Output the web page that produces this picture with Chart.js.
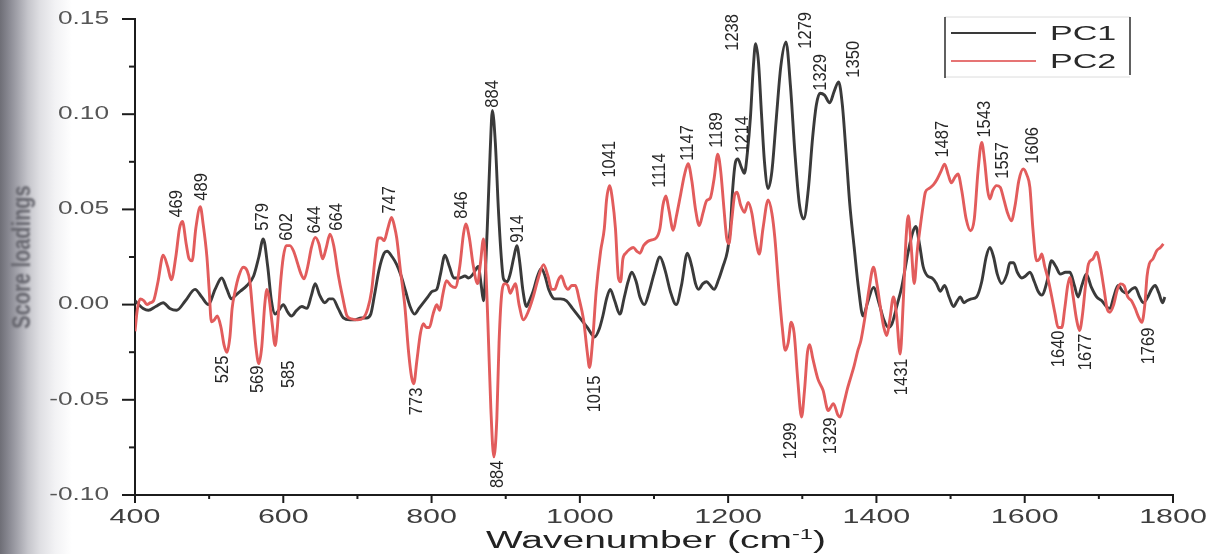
<!DOCTYPE html>
<html>
<head>
<meta charset="utf-8">
<script src="https://cdn.jsdelivr.net/npm/chart.js@4.4.0/dist/chart.umd.min.js"></script>
<style>
html,body{margin:0;padding:0;}
body{width:1223px;height:554px;overflow:hidden;background:linear-gradient(to right,#6e6e76 0px,#86868f 8px,#a5a5ad 18px,#c5c5cb 28px,#dfdfe3 40px,#f2f2f4 55px,#ffffff 72px);}
canvas{display:block;}
</style>
</head>
<body>
<canvas id="c" width="1223" height="554"></canvas>
<script>
// ---------- data ----------
const seriesNames = ['PC1', 'PC2'];
const xTickValues = [400, 600, 800, 1000, 1200, 1400, 1600, 1800];
const xTickLabels = ['400', '600', '800', '1000', '1200', '1400', '1600', '1800'];
const yTickValues = [-0.10, -0.05, 0.00, 0.05, 0.10, 0.15];
const yTickLabels = ['-0.10', '-0.05', '0.00', '0.05', '0.10', '0.15'];
const xAxisTitle = 'Wavenumber (cm';
const xAxisTitleSup = '-1';
const xAxisTitleEnd = ')';
const yAxisTitle = 'Score loadings';

// [wavenumber, loading]
const pc1Spectrum = [[400,0.002],[405,0.000],[411,-0.002],[418,-0.003],[428,-0.001],[438,0.001],[447,-0.002],[456,-0.003],[468,0.002],[481,0.008],[490,0.004],[499,0.000],[508,0.008],[517,0.014],[524,0.008],[530,0.003],[536,0.005],[542,0.007],[551,0.010],[560,0.015],[567,0.025],[573,0.0345],[579,0.020],[584,0.002],[589,-0.005],[594,-0.003],[600,0.000],[606,-0.004],[611,-0.006],[618,-0.003],[625,-0.001],[632,-0.002],[638,0.005],[643,0.011],[649,0.005],[656,0.001],[662,0.003],[667,0.003],[674,-0.002],[681,-0.007],[690,-0.008],[697,-0.008],[705,-0.007],[712,-0.007],[718,-0.005],[723,0.005],[729,0.018],[736,0.027],[740,0.028],[747,0.025],[753,0.021],[759,0.015],[765,0.007],[771,-0.001],[777,-0.005],[783,-0.002],[789,0.001],[795,0.004],[801,0.007],[807,0.008],[812,0.016],[818,0.026],[824,0.020],[830,0.014],[838,0.014],[845,0.015],[850,0.014],[856,0.016],[863,0.020],[867,0.010],[870,0.002],[875,0.039],[879,0.080],[882,0.102],[886,0.085],[890,0.051],[894,0.025],[897,0.0135],[902,0.012],[906,0.016],[911,0.025],[915,0.031],[919,0.022],[923,0.008],[928,-0.001],[932,0.002],[937,0.007],[943,0.015],[948,0.019],[953,0.015],[958,0.008],[966,0.003],[974,0.003],[982,0.002],[990,-0.002],[1000,-0.007],[1010,-0.012],[1020,-0.017],[1026,-0.013],[1031,-0.006],[1036,0.003],[1041,0.008],[1047,0.002],[1054,-0.005],[1060,0.004],[1065,0.012],[1070,0.017],[1076,0.012],[1081,0.004],[1087,0.000],[1093,0.006],[1100,0.016],[1108,0.025],[1115,0.018],[1122,0.007],[1130,0.000],[1137,0.010],[1145,0.027],[1151,0.020],[1156,0.011],[1160,0.008],[1166,0.011],[1171,0.012],[1176,0.010],[1181,0.008],[1187,0.013],[1193,0.020],[1199,0.028],[1203,0.040],[1206,0.060],[1210,0.075],[1213,0.0765],[1218,0.072],[1222,0.069],[1226,0.080],[1230,0.098],[1234,0.125],[1237,0.137],[1241,0.127],[1245,0.100],[1249,0.075],[1254,0.061],[1259,0.070],[1265,0.098],[1271,0.125],[1278,0.138],[1284,0.115],[1290,0.080],[1296,0.053],[1302,0.045],[1308,0.060],[1314,0.088],[1319,0.105],[1324,0.111],[1330,0.110],[1337,0.106],[1343,0.112],[1349,0.117],[1354,0.105],[1359,0.080],[1364,0.053],[1370,0.030],[1376,0.008],[1382,-0.006],[1388,0.001],[1396,0.009],[1404,0.000],[1410,-0.008],[1416,-0.012],[1421,-0.010],[1428,0.000],[1434,0.009],[1443,0.028],[1449,0.038],[1453,0.041],[1458,0.032],[1463,0.020],[1469,0.015],[1475,0.014],[1481,0.011],[1486,0.007],[1492,0.010],[1498,0.004],[1504,-0.001],[1509,0.002],[1513,0.004],[1518,0.001],[1522,0.002],[1528,0.003],[1535,0.004],[1542,0.012],[1548,0.025],[1553,0.030],[1558,0.025],[1563,0.016],[1569,0.011],[1576,0.016],[1580,0.022],[1585,0.022],[1590,0.017],[1596,0.014],[1601,0.015],[1607,0.017],[1613,0.012],[1618,0.007],[1623,0.005],[1630,0.012],[1636,0.023],[1642,0.020],[1648,0.016],[1655,0.017],[1661,0.017],[1667,0.010],[1672,0.004],[1677,0.010],[1683,0.016],[1690,0.009],[1697,0.004],[1704,0.002],[1710,-0.001],[1715,-0.002],[1720,0.004],[1726,0.010],[1732,0.007],[1738,0.006],[1744,0.008],[1749,0.009],[1755,0.004],[1760,0.001],[1766,0.004],[1771,0.008],[1776,0.010],[1781,0.006],[1786,0.001],[1789,0.004]];

const pc2Spectrum = [[400,-0.014],[403,-0.003],[407,0.003],[412,0.002],[416,0.000],[421,0.001],[425,0.002],[431,0.012],[438,0.026],[444,0.020],[449,0.013],[455,0.025],[460,0.040],[464,0.0437],[469,0.032],[473,0.024],[477,0.023],[482,0.040],[488,0.0514],[492,0.042],[497,0.025],[500,0.008],[503,-0.009],[507,-0.008],[511,-0.006],[516,-0.012],[520,-0.021],[524,-0.025],[528,-0.017],[531,-0.002],[535,0.007],[540,0.015],[546,0.0196],[551,0.018],[555,0.012],[559,-0.005],[563,-0.022],[567,-0.031],[571,-0.022],[575,0.000],[578,0.008],[581,0.003],[585,-0.010],[589,-0.0215],[592,-0.012],[596,0.010],[600,0.025],[604,0.031],[609,0.031],[614,0.028],[619,0.022],[624,0.016],[628,0.0135],[633,0.020],[638,0.030],[643,0.0353],[648,0.032],[653,0.024],[658,0.030],[663,0.037],[668,0.031],[674,0.016],[680,0.004],[686,-0.006],[692,-0.0075],[700,-0.008],[708,-0.007],[714,-0.002],[719,0.007],[724,0.025],[728,0.035],[732,0.035],[736,0.0336],[741,0.040],[746,0.0458],[750,0.041],[753,0.035],[758,0.018],[764,-0.001],[769,-0.025],[773,-0.038],[776,-0.0416],[780,-0.030],[785,-0.015],[789,-0.010],[793,-0.012],[797,-0.012],[802,-0.005],[807,0.000],[811,-0.003],[815,0.005],[820,0.0126],[826,0.010],[832,0.009],[838,0.020],[843,0.037],[846,0.0424],[851,0.035],[856,0.021],[862,0.011],[866,0.022],[870,0.0345],[873,0.020],[876,-0.010],[880,-0.055],[884,-0.080],[888,-0.060],[891,-0.020],[895,0.007],[899,0.011],[903,0.010],[906,0.006],[910,0.009],[913,0.011],[918,0.000],[924,-0.008],[930,-0.004],[937,0.004],[944,0.014],[951,0.021],[957,0.015],[962,0.008],[966,0.008],[971,0.013],[975,0.015],[980,0.010],[984,0.008],[989,0.010],[994,0.010],[999,0.003],[1005,-0.008],[1010,-0.025],[1013,-0.033],[1017,-0.020],[1022,0.007],[1028,0.028],[1033,0.040],[1036,0.055],[1040,0.0625],[1044,0.055],[1048,0.040],[1052,0.014],[1055,0.012],[1058,0.024],[1062,0.027],[1067,0.029],[1072,0.030],[1077,0.028],[1081,0.027],[1086,0.031],[1091,0.033],[1097,0.034],[1103,0.035],[1108,0.040],[1112,0.052],[1116,0.057],[1120,0.050],[1126,0.039],[1130,0.046],[1136,0.058],[1141,0.068],[1146,0.074],[1151,0.065],[1156,0.050],[1161,0.0415],[1166,0.048],[1171,0.0546],[1176,0.056],[1181,0.066],[1186,0.079],[1190,0.070],[1194,0.052],[1198,0.035],[1201,0.032],[1205,0.045],[1209,0.058],[1212,0.059],[1217,0.052],[1222,0.0485],[1227,0.0537],[1232,0.048],[1237,0.035],[1242,0.0266],[1247,0.040],[1254,0.055],[1259,0.048],[1263,0.035],[1268,0.010],[1273,-0.012],[1277,-0.024],[1281,-0.020],[1285,-0.0093],[1289,-0.015],[1294,-0.040],[1299,-0.059],[1303,-0.045],[1307,-0.025],[1310,-0.021],[1314,-0.028],[1321,-0.039],[1328,-0.045],[1335,-0.0556],[1342,-0.052],[1348,-0.058],[1351,-0.059],[1356,-0.052],[1361,-0.044],[1364,-0.040],[1370,-0.032],[1375,-0.024],[1379,-0.019],[1384,-0.008],[1390,0.008],[1396,0.0196],[1401,0.010],[1406,-0.003],[1410,-0.012],[1414,-0.0163],[1418,-0.008],[1423,0.004],[1427,-0.005],[1432,-0.026],[1436,0.000],[1440,0.035],[1443,0.0467],[1447,0.030],[1451,0.011],[1455,0.028],[1459,0.0406],[1463,0.052],[1466,0.059],[1471,0.061],[1477,0.063],[1482,0.066],[1487,0.070],[1492,0.0738],[1497,0.068],[1501,0.064],[1506,0.067],[1510,0.0686],[1515,0.060],[1521,0.045],[1527,0.0388],[1532,0.045],[1537,0.070],[1542,0.0852],[1546,0.075],[1550,0.060],[1553,0.0555],[1557,0.060],[1562,0.0625],[1567,0.0616],[1572,0.055],[1577,0.048],[1582,0.044],[1587,0.052],[1592,0.065],[1598,0.0712],[1603,0.068],[1607,0.0616],[1611,0.040],[1616,0.023],[1620,0.024],[1623,0.0266],[1627,0.020],[1632,0.0126],[1636,0.005],[1641,-0.005],[1645,-0.012],[1650,-0.012],[1654,-0.002],[1658,0.010],[1661,0.0143],[1665,0.005],[1670,-0.008],[1674,-0.0136],[1678,-0.005],[1682,0.010],[1686,0.0214],[1692,0.024],[1697,0.0275],[1702,0.020],[1707,0.008],[1711,-0.002],[1715,-0.004],[1720,0.000],[1725,0.008],[1729,0.0109],[1734,0.010],[1739,0.004],[1744,0.002],[1749,-0.002],[1753,-0.006],[1758,-0.0093],[1762,0.000],[1765,0.015],[1768,0.0214],[1773,0.024],[1778,0.0283],[1783,0.030],[1787,0.0319]];

// peak annotations: text, wavenumber position, loading position, side
const peakLabelTexts = ['469','489','579','602','644','664','747','846','884','914','1041','1114','1147','1189','1214','1238','1279','1329','1350','1487','1543','1557','1606',
                        '525','569','585','773','884','1015','1299','1329','1431','1640','1677','1769'];
const peakLabelX = [457,490,573,605,643,672,744,841,883,917,1041,1108,1146,1185,1220,1207,1305,1325,1370,1490,1546,1571,1611,
                    518,566,608,780,890,1020,1284,1339,1435,1646,1683,1767];
const peakLabelY = [0.0457,0.0546,0.0388,0.0336,0.0373,0.0388,0.0478,0.0451,0.1034,0.0325,0.0667,0.0614,0.0756,0.0824,0.0798,0.1333,0.1344,0.1123,0.1192,0.0772,0.0877,0.0661,0.0740,
                    -0.0268,-0.0320,-0.0294,-0.0436,-0.0819,-0.0373,-0.0619,-0.0593,-0.0283,-0.0136,-0.0152,-0.0121];
const peakLabelSide = ['up','up','up','up','up','up','up','up','up','up','up','up','up','up','up','up','up','up','up','up','up','up','up',
                       'down','down','down','down','down','down','down','down','down','down','down','down'];

// ---------- helpers ----------
const FONT = '"Liberation Sans", Arial, Helvetica, sans-serif';
function drawText(ctx, text, x, y, sx, align, baseline, rot) {
  ctx.save();
  ctx.translate(x, y);
  ctx.scale(sx, 1);
  if (rot) ctx.rotate(rot);
  ctx.textAlign = align;
  ctx.textBaseline = baseline;
  ctx.fillText(text, 0, 0);
  ctx.restore();
}

const decorPlugin = {
  id: 'decor',
  afterDraw(chart) {
    const ctx = chart.ctx;
    const ca = chart.chartArea;
    const xs = chart.scales.x, ys = chart.scales.y;

    // tick marks (major from scale ticks, minor halfway)
    ctx.save();
    ctx.strokeStyle = '#1c1c1c';
    ctx.lineWidth = 2;
    const xt = xs.ticks.map(t => t.value);
    xt.forEach((v, i) => {
      const p = xs.getPixelForValue(v);
      ctx.beginPath(); ctx.moveTo(p, ca.bottom); ctx.lineTo(p, ca.bottom + 8); ctx.stroke();
      if (i < xt.length - 1) {
        const m = xs.getPixelForValue((v + xt[i + 1]) / 2);
        ctx.beginPath(); ctx.moveTo(m, ca.bottom); ctx.lineTo(m, ca.bottom + 4); ctx.stroke();
      }
    });
    const yt = ys.ticks.map(t => t.value);
    yt.forEach((v, i) => {
      const p = ys.getPixelForValue(v);
      ctx.beginPath(); ctx.moveTo(ca.left, p); ctx.lineTo(ca.left - 13, p); ctx.stroke();
      if (i < yt.length - 1) {
        const m = ys.getPixelForValue((v + yt[i + 1]) / 2);
        ctx.beginPath(); ctx.moveTo(ca.left, m); ctx.lineTo(ca.left - 6, m); ctx.stroke();
      }
    });
    ctx.restore();

    // tick labels
    ctx.save();
    ctx.fillStyle = '#3e3e3e';
    ctx.font = '21px ' + FONT;
    xTickValues.forEach((v, i) => {
      drawText(ctx, xTickLabels[i], xs.getPixelForValue(v), ca.bottom + 22, 1.45, 'center', 'middle');
    });
    ctx.fillStyle = '#555555';
    ctx.font = '17.5px ' + FONT;
    yTickValues.forEach((v, i) => {
      drawText(ctx, yTickLabels[i], ca.left - 26, ys.getPixelForValue(v), 1.5, 'right', 'middle');
    });
    ctx.restore();

    // x axis title with superscript
    ctx.save();
    ctx.fillStyle = '#222222';
    const mainFont = '23px ' + FONT, supFont = '14px ' + FONT;
    ctx.font = mainFont; const w1 = ctx.measureText(xAxisTitle).width; const w3 = ctx.measureText(xAxisTitleEnd).width;
    ctx.font = supFont; const w2 = ctx.measureText(xAxisTitleSup).width;
    const total = w1 + w2 + w3;
    const targetW = 340;
    const sx = targetW / total;
    const cx = (ca.left + ca.right) / 2 + 2;
    ctx.translate(cx - targetW / 2, 548);
    ctx.scale(sx, 1);
    ctx.textAlign = 'left'; ctx.textBaseline = 'alphabetic';
    ctx.font = mainFont; ctx.fillText(xAxisTitle, 0, 0);
    ctx.font = supFont; ctx.fillText(xAxisTitleSup, w1, -9);
    ctx.font = mainFont; ctx.fillText(xAxisTitleEnd, w1 + w2, 0);
    ctx.restore();

    // y axis title (blurred in the scan)
    ctx.save();
    ctx.filter = 'blur(1.3px)';
    ctx.fillStyle = '#66666e';
    ctx.font = 'bold 20px ' + FONT;
    drawText(ctx, yAxisTitle, 23, (ca.top + ca.bottom) / 2, 1.25, 'center', 'middle', -Math.PI / 2);
    ctx.restore();

    // legend
    ctx.save();
    const lx0 = 945, lx1 = 1130, ly0 = 17, ly1 = 77;
    ctx.strokeStyle = '#dcdcdc'; ctx.lineWidth = 1;
    ctx.beginPath(); ctx.moveTo(lx0, ly0); ctx.lineTo(lx1, ly0); ctx.moveTo(lx0, ly1); ctx.lineTo(lx1, ly1); ctx.stroke();
    ctx.strokeStyle = '#3a3a3a'; ctx.lineWidth = 1.6;
    ctx.beginPath(); ctx.moveTo(lx0, ly0); ctx.lineTo(lx0, ly1 + 1); ctx.moveTo(lx1, ly0); ctx.lineTo(lx1, ly1 - 2); ctx.stroke();
    const rows = [33, 61];
    chart.data.datasets.forEach((ds, i) => {
      ctx.strokeStyle = ds.borderColor; ctx.lineWidth = i === 0 ? 2 : 1.8;
      ctx.globalAlpha = i === 0 ? 1 : 0.85;
      ctx.beginPath(); ctx.moveTo(951, rows[i]); ctx.lineTo(1036, rows[i]); ctx.stroke();
      ctx.globalAlpha = 1;
      ctx.fillStyle = '#2a2a2a';
      ctx.font = '21px ' + FONT;
      drawText(ctx, ds.label, 1050, rows[i] + 7, 1.62, 'left', 'alphabetic');
    });
    ctx.restore();

    // peak labels
    ctx.save();
    ctx.fillStyle = '#262626';
    ctx.font = '16.5px ' + FONT;
    peakLabelTexts.forEach((t, i) => {
      const px = xs.getPixelForValue(peakLabelX[i]);
      const py = ys.getPixelForValue(peakLabelY[i]);
      const up = peakLabelSide[i] === 'up';
      drawText(ctx, t, px, py, 1.12, up ? 'left' : 'right', 'middle', -Math.PI / 2);
    });
    ctx.restore();
  }
};

new Chart(document.getElementById('c'), {
  type: 'line',
  data: {
    datasets: [
      { label: seriesNames[0], data: pc1Spectrum.map(p => ({x: p[0], y: p[1]})), borderColor: '#3a3a3a', borderWidth: 2.9, pointRadius: 0, cubicInterpolationMode: 'monotone', fill: false, order: 1 },
      { label: seriesNames[1], data: pc2Spectrum.map(p => ({x: p[0], y: p[1]})), borderColor: '#e25c5c', borderWidth: 2.9, pointRadius: 0, cubicInterpolationMode: 'monotone', fill: false, order: 0 }
    ]
  },
  options: {
    responsive: false,
    animation: false,
    devicePixelRatio: 1,
    layout: { padding: { left: 0, right: 50, top: 19, bottom: 0 } },
    plugins: { legend: { display: false }, tooltip: { enabled: false } },
    scales: {
      x: {
        type: 'linear', min: 400, max: 1800,
        afterBuildTicks: s => { s.ticks = xTickValues.map(v => ({ value: v })); },
        afterFit: s => { s.height = 59; },
        ticks: { display: false },
        grid: { display: true, drawOnChartArea: false, drawTicks: false, color: '#1c1c1c' },
        border: { display: true, color: '#1c1c1c', width: 2 }
      },
      y: {
        type: 'linear', min: -0.10, max: 0.15,
        afterBuildTicks: s => { s.ticks = yTickValues.map(v => ({ value: v })); },
        afterFit: s => { s.width = 135; },
        ticks: { display: false },
        grid: { display: true, drawOnChartArea: false, drawTicks: false, color: '#1c1c1c' },
        border: { display: true, color: '#1c1c1c', width: 2 }
      }
    }
  },
  plugins: [decorPlugin]
});
</script>
</body>
</html>
